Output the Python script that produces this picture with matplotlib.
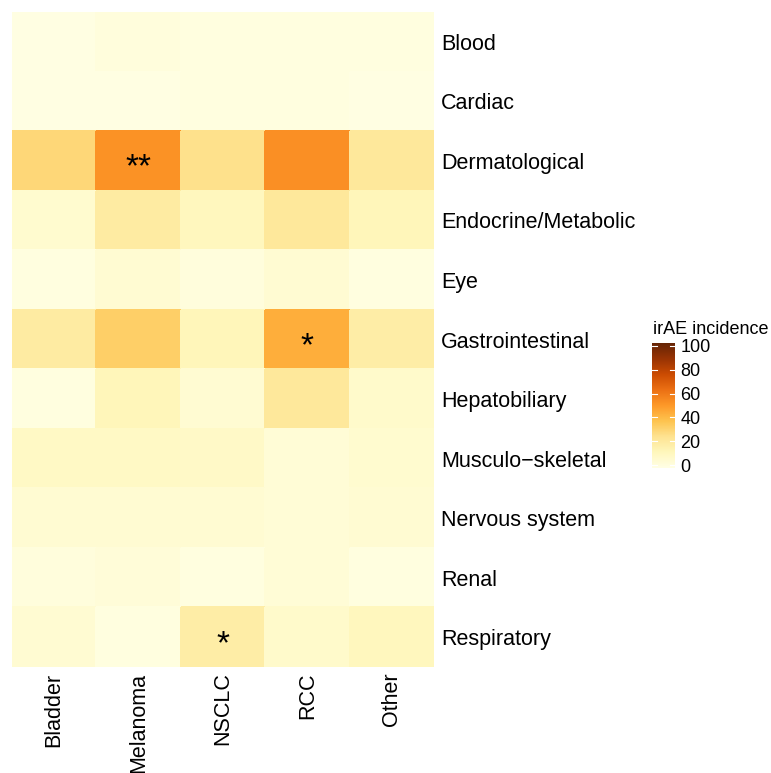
import numpy as np
import matplotlib
matplotlib.use("Agg")
import matplotlib.pyplot as plt
from matplotlib.colors import Normalize

plt.rcParams['font.family'] = ['Liberation Sans', 'DejaVu Sans']

cancers = ["Bladder", "Melanoma", "NSCLC", "RCC", "Other"]
organs = ["Blood", "Cardiac", "Dermatological", "Endocrine/Metabolic", "Eye",
          "Gastrointestinal", "Hepatobiliary", "Musculo\u2212skeletal",
          "Nervous system", "Renal", "Respiratory"]

blood = [1, 3, 2, 2, 2]
cardiac = [1, 1, 2, 2, 1]
dermatological = [30, 52, 26, 53, 22]
endocrine = [7, 20, 12, 22, 13]
eye = [2, 6, 3, 6, 2]
gastrointestinal = [20, 33, 13, 44, 19]
hepatobiliary = [2, 13, 6, 22, 8]
musculo = [10, 10, 9, 5, 7]
nervous = [6, 6, 6, 5, 6]
renal = [3, 4, 2, 5, 2]
respiratory = [6, 2, 19, 8, 12]

# significance marks: (organ, cancer, label)
marks = [("Dermatological", "Melanoma", "**"),
         ("Gastrointestinal", "RCC", "*"),
         ("Respiratory", "NSCLC", "*")]

data = np.array([blood, cardiac, dermatological, endocrine, eye, gastrointestinal,
                 hepatobiliary, musculo, nervous, renal, respiratory], dtype=float)

W, H = 771, 773
fig = plt.figure(figsize=(W / 100, H / 100), dpi=100)
ax = fig.add_axes([12 / W, 1 - 667 / H, (434 - 12) / W, (667 - 12) / H])

cmap = plt.get_cmap("YlOrBr")
norm = Normalize(0, 100)
ax.pcolormesh(np.arange(len(cancers) + 1), np.arange(len(organs) + 1), data,
              cmap=cmap, norm=norm, shading="flat", edgecolor="face", linewidth=0.3)
ax.set_xlim(0, len(cancers))
ax.set_ylim(len(organs), 0)
for s in ax.spines.values():
    s.set_visible(False)

ax.set_xticks(np.arange(len(cancers)) + 0.5)
ax.set_xticklabels(cancers, rotation=90, fontsize=15.5, va="top", ha="center")
ax.set_yticks(np.arange(len(organs)) + 0.5)
ax.set_yticklabels(organs, fontsize=15.5)
ax.yaxis.tick_right()
ax.tick_params(length=0, pad=5)
ax.tick_params(axis="x", pad=4)

for org, can, lab in marks:
    i = organs.index(org)
    j = cancers.index(can)
    ax.text(j + 0.5, i + 0.62, lab, ha="center", va="center", fontsize=24, color="black")

# colorbar
cax = fig.add_axes([652 / W, 1 - 468 / H, 23 / W, (468 - 343) / H])
grad = np.linspace(0, 100, 300).reshape(-1, 1)
cax.imshow(grad, aspect="auto", cmap=cmap, norm=norm, origin="lower",
           extent=[0, 1, -2.5, 102.5])
cax.set_xlim(0, 1)
cax.set_ylim(-2.5, 102.5)
for s in cax.spines.values():
    s.set_visible(False)
cax.set_xticks([])
ticks = [0, 20, 40, 60, 80, 100]
cax.set_yticks(ticks)
cax.set_yticklabels([str(t) for t in ticks], fontsize=13)
cax.yaxis.tick_right()
cax.tick_params(axis="y", length=0, pad=4)
for t in ticks:
    cax.plot([0, 0.2], [t, t], color="white", lw=0.8)
    cax.plot([0.8, 1], [t, t], color="white", lw=0.8)
fig.text(653 / W, 1 - 330 / H, "irAE incidence", fontsize=13, ha="left", va="center")

fig.savefig("out.png", dpi=100)
